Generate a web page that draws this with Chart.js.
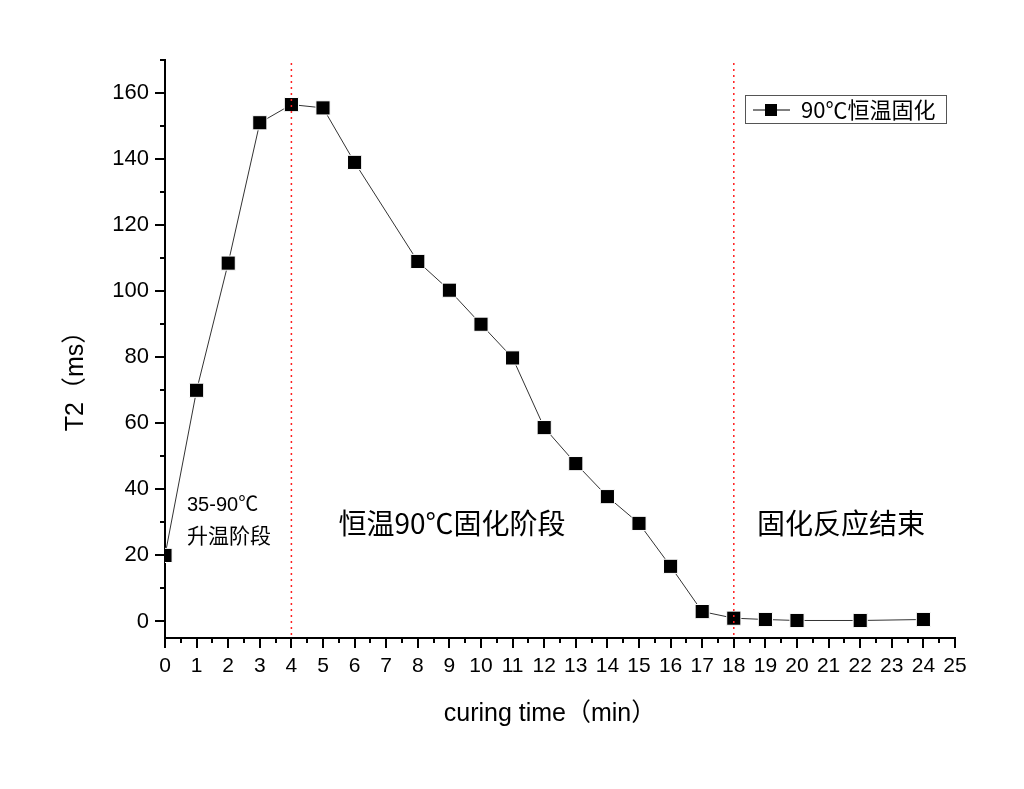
<!DOCTYPE html>
<html>
<head>
<meta charset="utf-8">
<script src="https://cdn.jsdelivr.net/npm/chart.js@4/dist/chart.umd.min.js"></script>
<style>
  html, body { margin: 0; padding: 0; background: #fff; }
  #wrap { width: 1024px; height: 789px; }
</style>
</head>
<body>
<div id="wrap"><canvas id="curingChart" width="1024" height="789"></canvas></div>
<script>
// values
const curingTime = [0, 1, 2, 3, 4, 5, 6, 8, 9, 10, 11, 12, 13, 14, 15, 16, 17, 18, 19, 20, 22, 24];
const t2Values = [20, 70, 108.5, 151, 156.5, 155.5, 139, 109, 100.3, 90, 79.8, 58.7, 47.8, 37.8, 29.7, 16.7, 3, 1, 0.6, 0.3, 0.3, 0.6];
const yTickValues = [0, 20, 40, 60, 80, 100, 120, 140, 160];
const stageLines = [4, 18];
const seriesName = '90℃恒温固化';
const xTitle = 'curing time（min）';
const yTitle = 'T2（ms）';

const FONT = '"Liberation Sans", Arial, "Noto Sans CJK SC", sans-serif';
const CJK = '"Noto Sans CJK SC", "Liberation Sans", sans-serif';

// minor/major ticks pointing outward, stage lines, notes, titles and legend box
const extrasPlugin = {
    id: 'extras',
    afterDraw(chart) {
        const ctx = chart.ctx;
        const xs = chart.scales.x;
        const ys = chart.scales.y;
        const area = chart.chartArea;
        ctx.save();
        ctx.strokeStyle = '#000';
        ctx.lineWidth = 2;
        // x ticks
        for (let v = 0; v <= 25; v += 0.5) {
            const px = Math.round(xs.getPixelForValue(v));
            const len = Number.isInteger(v) ? 10 : 5;
            ctx.beginPath();
            ctx.moveTo(px, area.bottom);
            ctx.lineTo(px, area.bottom + len);
            ctx.stroke();
        }
        // y ticks
        for (let v = 0; v <= 170; v += 10) {
            const py = Math.round(ys.getPixelForValue(v));
            const len = v % 20 === 0 ? 10 : 5;
            ctx.beginPath();
            ctx.moveTo(area.left, py);
            ctx.lineTo(area.left - len, py);
            ctx.stroke();
        }
        // red dotted stage lines
        ctx.strokeStyle = '#ff2020';
        ctx.lineWidth = 1.5;
        ctx.setLineDash([2, 4]);
        stageLines.forEach(function(v) {
            const px = xs.getPixelForValue(v);
            ctx.beginPath();
            ctx.moveTo(px, area.top + 3);
            ctx.lineTo(px, area.bottom);
            ctx.stroke();
        });
        ctx.setLineDash([]);

        // axis titles
        ctx.fillStyle = '#000';
        ctx.textBaseline = 'middle';
        ctx.textAlign = 'center';
        ctx.font = '25px ' + FONT;
        ctx.fillText(xTitle, 550, 714);
        ctx.save();
        ctx.translate(76, 375);
        ctx.rotate(-Math.PI / 2);
        ctx.fillText(yTitle, 0, 0);
        ctx.restore();

        // stage notes
        ctx.textAlign = 'left';
        ctx.font = '20px ' + FONT;
        ctx.fillText('35-90℃', 187, 505);
        ctx.font = '21px ' + CJK;
        ctx.fillText('升温阶段', 187, 535);
        ctx.textAlign = 'center';
        ctx.font = '28px ' + CJK;
        ctx.fillText('恒温90℃固化阶段', 452, 523);
        ctx.fillText('固化反应结束', 841, 523);

        // legend box
        ctx.strokeStyle = '#555';
        ctx.lineWidth = 1;
        ctx.strokeRect(745.5, 95.5, 201, 28);
        ctx.strokeStyle = '#000';
        ctx.beginPath();
        ctx.moveTo(753, 110);
        ctx.lineTo(790, 110);
        ctx.stroke();
        ctx.fillRect(765, 104, 12, 12);
        ctx.textAlign = 'left';
        ctx.font = '22px ' + CJK;
        ctx.fillText(seriesName, 801, 110);
        ctx.restore();
    }
};

const chart = new Chart(document.getElementById('curingChart').getContext('2d'), {
    type: 'line',
    data: {
        datasets: [{
            label: seriesName,
            data: curingTime.map(function(t, i) { return { x: t, y: t2Values[i] }; }),
            borderColor: '#333',
            borderWidth: 1,
            pointStyle: 'rect',
            pointRadius: 10,
            pointBackgroundColor: '#000',
            pointBorderColor: '#fff',
            pointBorderWidth: 1,
            tension: 0,
            clip: 0
        }]
    },
    options: {
        responsive: false,
        animation: false,
        devicePixelRatio: 1,
        layout: { padding: { top: 60, right: 69, left: 0, bottom: 0 } },
        plugins: { legend: { display: false }, tooltip: { enabled: false } },
        scales: {
            x: {
                type: 'linear',
                min: 0,
                max: 25,
                grid: { display: false, drawTicks: false },
                border: { display: true, color: '#000', width: 2 },
                ticks: { stepSize: 1, color: '#000', padding: 16, font: { size: 21, family: FONT } },
                afterFit(scale) { scale.height = 151; }
            },
            y: {
                min: -5,
                max: 170,
                grid: { display: false, drawTicks: false },
                border: { display: true, color: '#000', width: 2 },
                afterBuildTicks(scale) {
                    scale.ticks = yTickValues.map(function(v) { return { value: v }; });
                },
                ticks: { color: '#000', padding: 16, font: { size: 22, family: FONT } },
                afterFit(scale) { scale.width = 165; }
            }
        }
    },
    plugins: [extrasPlugin]
});
</script>
</body>
</html>
